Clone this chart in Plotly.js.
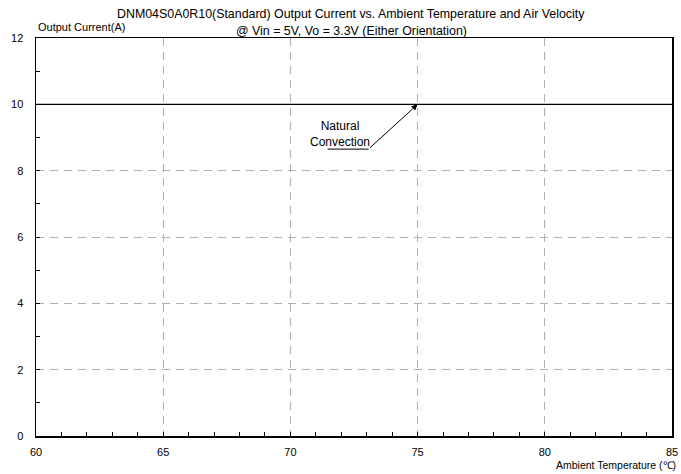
<!DOCTYPE html>
<html><head><meta charset="utf-8">
<script src="https://cdn.plot.ly/plotly-3.0.1.min.js"></script>
<style>html,body{margin:0;padding:0;background:#fff}</style>
</head><body><div id="chart" style="width:681px;height:474px"></div>
<script>
const temperature = [60, 85];
const currentNatural = [10, 10];
const xTicks = [60, 65, 70, 75, 80, 85];
const yTicks = [0, 2, 4, 6, 8, 10, 12];
const arrowPoint = [75, 10];
const labelPoint = [73.07, 8.65];
const underlineStart = 71.46;
const titleLines = ['DNM04S0A0R10(Standard) Output Current vs. Ambient Temperature and Air Velocity', '@ Vin = 5V, Vo = 3.3V (Either Orientation)'];

const font = 'Liberation Sans, Arial, sans-serif';
const trace = {x: temperature, y: currentNatural, mode: 'lines', line: {color: '#000', width: 1.2}, hoverinfo: 'skip', showlegend: false};

const axisCommon = {
  showline: true, linecolor: '#000', linewidth: 1.5, mirror: true,
  ticks: 'inside', ticklen: 4, tickcolor: '#000', tickwidth: 1,
  showgrid: true, gridcolor: '#b0b0b0', griddash: '8px,6px', gridwidth: 1,
  zeroline: false, tickfont: {family: font, size: 11, color: '#000'}
};

const pw = 681 - 36 - 9, ph = 474 - 38 - 38;
const px = v => (v - 36) / pw;
const py = v => (474 - 38 - v) / ph;

const layout = {
  width: 681, height: 474,
  margin: {l: 36, r: 9, t: 38, b: 38},
  paper_bgcolor: '#fff', plot_bgcolor: '#fff',
  font: {family: font, color: '#000'},
  xaxis: Object.assign({}, axisCommon, {range: [60, 85], tickvals: xTicks, ticktext: xTicks.map(String), ticklabelstandoff: 5,
    minor: {dtick: 1, ticks: 'inside', ticklen: 4, tickcolor: '#000', showgrid: false}}),
  yaxis: Object.assign({}, axisCommon, {range: [0, 12], tickvals: yTicks, ticktext: yTicks.map(String), ticklabelstandoff: 9,
    minor: {dtick: 1, ticks: 'inside', ticklen: 4, tickcolor: '#000', showgrid: false}}),
  shapes: [
    {type: 'line', xref: 'x', yref: 'y', x0: underlineStart, x1: labelPoint[0], y0: labelPoint[1], y1: labelPoint[1], line: {color: '#000', width: 1}}
  ],
  annotations: [
    {x: arrowPoint[0], y: arrowPoint[1], xref: 'x', yref: 'y', ax: labelPoint[0], ay: labelPoint[1], axref: 'x', ayref: 'y',
      text: '', showarrow: true, arrowhead: 2, arrowsize: 1.2, arrowwidth: 1, arrowcolor: '#000'},
    {x: 71.95, y: 9.12, xref: 'x', yref: 'y', text: 'Natural<br>Convection', showarrow: false,
      font: {family: font, size: 12, color: '#000'}, align: 'center'},
    {x: px(36), y: py(27), xref: 'paper', yref: 'paper', text: 'Output Current(A)', showarrow: false, xanchor: 'left', yanchor: 'middle',
      font: {family: font, size: 11, color: '#000'}},
    {x: px(678), y: py(465), xref: 'paper', yref: 'paper', text: 'Ambient Temperature (℃)', showarrow: false, xanchor: 'right', yanchor: 'middle',
      font: {family: font, size: 10.5, color: '#000'}},
    {x: px(351), y: py(14), xref: 'paper', yref: 'paper', text: titleLines[0], showarrow: false, xanchor: 'center', yanchor: 'middle',
      font: {family: font, size: 12.4, color: '#000'}},
    {x: px(351), y: py(31), xref: 'paper', yref: 'paper', text: titleLines[1], showarrow: false, xanchor: 'center', yanchor: 'middle',
      font: {family: font, size: 12.4, color: '#000'}}
  ]
};

Plotly.newPlot('chart', [trace], layout, {displayModeBar: false, staticPlot: true});
</script></body></html>
